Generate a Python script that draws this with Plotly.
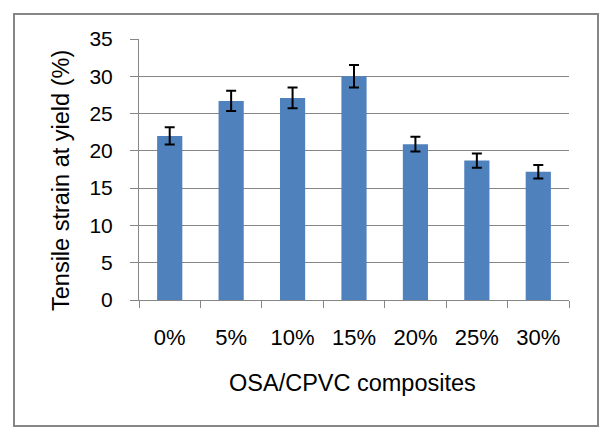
import plotly.graph_objects as go

categories = ["0%", "5%", "10%", "15%", "20%", "25%", "30%"]
values = [22.0, 26.7, 27.1, 30.0, 20.9, 18.7, 17.2]
errors = [1.15, 1.35, 1.4, 1.5, 1.0, 0.95, 0.9]
y_ticks = [0, 5, 10, 15, 20, 25, 30, 35]

W, H = 607, 443
L, R, T, B = 139, 38, 39, 143
pw, ph = W - L - R, H - T - B

def px2paper_x(px):
    return (px - L) / pw

def px2paper_y(py):
    return (H - B - py) / ph

fig = go.Figure(go.Bar(
    x=categories, y=values,
    marker=dict(color="#4f81bd", line=dict(width=0)),
    error_y=dict(type="data", array=errors, color="black", thickness=2, width=5, visible=True),
))

font = "Liberation Sans, Arial, sans-serif"
fig.update_layout(
    width=W, height=H,
    margin=dict(l=L, r=R, t=T, b=B, autoexpand=False),
    paper_bgcolor="white", plot_bgcolor="white",
    bargap=0.59,
    showlegend=False,
    font=dict(family=font, size=21, color="black"),
    xaxis=dict(
        showline=True, linecolor="#868686", linewidth=1,
        ticks="outside", tickson="boundaries", ticklen=7, tickcolor="#868686",
        ticklabelstandoff=18,
        tickfont=dict(size=22, color="black"),
        showgrid=False, automargin=False,
    ),
    yaxis=dict(
        range=[0, 35], tickvals=y_ticks, ticktext=[str(v) for v in y_ticks],
        showline=True, linecolor="#868686", linewidth=1,
        ticks="outside", ticklen=8, tickcolor="#868686",
        ticklabelstandoff=13,
        tickfont=dict(size=21, color="black"),
        showgrid=True, gridcolor="#868686", gridwidth=1,
        zeroline=False, automargin=False,
    ),
    annotations=[
        dict(text="OSA/CPVC composites", xref="paper", yref="paper",
             x=px2paper_x(352.5), y=px2paper_y(383), xanchor="center", yanchor="middle",
             showarrow=False, font=dict(size=23.5, color="black")),
        dict(text="Tensile strain at yield (%)", xref="paper", yref="paper",
             x=px2paper_x(61), y=px2paper_y(181), xanchor="center", yanchor="middle",
             textangle=-90, showarrow=False, font=dict(size=23.5, color="black")),
    ],
    shapes=[dict(
        type="rect", xref="paper", yref="paper",
        x0=px2paper_x(14), x1=px2paper_x(598),
        y0=px2paper_y(426), y1=px2paper_y(14),
        line=dict(color="#868686", width=2), fillcolor="rgba(0,0,0,0)", layer="below",
    )],
)

fig.write_html("out.html", config={"displayModeBar": False, "staticPlot": True})

with open("out.html", "r", encoding="utf-8") as f:
    html = f.read()
html = html.replace("<body>", '<body style="margin:0;padding:0;overflow:hidden">', 1)
with open("out.html", "w", encoding="utf-8") as f:
    f.write(html)
